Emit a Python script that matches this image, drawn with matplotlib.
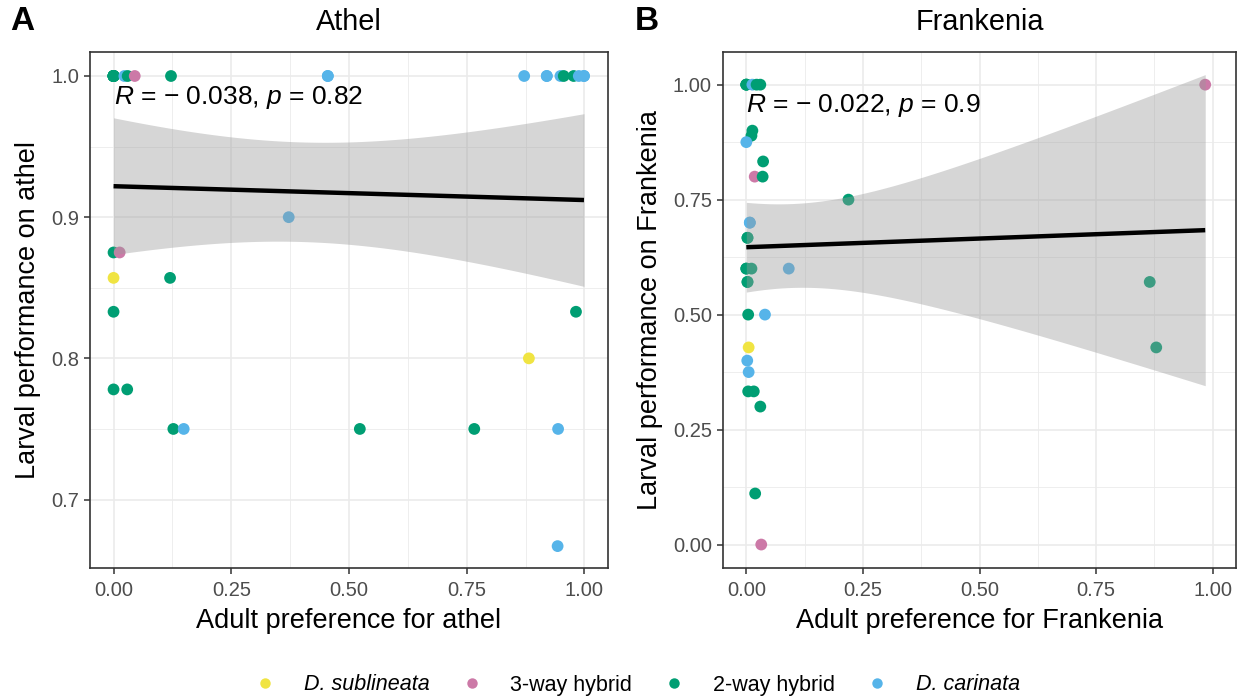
import numpy as np
import matplotlib
matplotlib.use("Agg")
import matplotlib.pyplot as plt
from matplotlib.lines import Line2D

plt.rcParams['font.family'] = ['Liberation Sans', 'DejaVu Sans']
plt.rcParams['mathtext.fontset'] = 'custom'
plt.rcParams['mathtext.rm'] = 'Liberation Sans'
plt.rcParams['mathtext.it'] = 'Liberation Sans:italic'

groups = ["D. sublineata", "3-way hybrid", "2-way hybrid", "D. carinata"]
colors = {"D. sublineata": "#F0E442", "3-way hybrid": "#CC79A7",
          "2-way hybrid": "#009E73", "D. carinata": "#56B4E9"}
Y, P, G, B = groups

# Panel A: Athel.  The first 10 points sit exactly under visible markers
# (overlapping observations, inferred from the fitted line / band).
athel_x = [0.00, 0.00, 0.00, 0.00, 0.00, 0.00, 0.00, 0.455, 0.92, 0.999,
           0.00, 0.023, 0.03, 0.045, 0.122, 0.455, 0.872, 0.92, 0.949, 0.956, 0.977, 0.988, 0.999,
           0.372, 0.00, 0.013, 0.00, 0.12, 0.00, 0.982, 0.882, 0.00, 0.029,
           0.127, 0.149, 0.523, 0.766, 0.944, 0.943]
athel_y = [1.0, 1.0, 1.0, 1.0, 1.0, 1.0, 1.0, 1.0, 1.0, 1.0,
           1.0, 1.0, 1.0, 1.0, 1.0, 1.0, 1.0, 1.0, 1.0, 1.0, 1.0, 1.0, 1.0,
           0.9, 0.875, 0.875, 0.857, 0.857, 0.833, 0.833, 0.8, 0.778, 0.778,
           0.75, 0.75, 0.75, 0.75, 0.75, 0.667]
athel_g = [G, G, G, G, G, G, G, B, B, B,
           G, B, G, P, G, B, B, B, B, G, G, B, B,
           B, G, P, Y, G, G, G, Y, G, G,
           G, B, G, G, B, B]

# Panel B: Frankenia.  The first 6 points are overlapping observations hidden
# under visible markers near x = 0.
fran_x = [0.0, 0.0, 0.0075, 0.0025, 0.0, 0.0025,
          0.0, 0.013, 0.022, 0.03, 0.984, 0.013, 0.011, 0.0, 0.036, 0.018, 0.035, 0.219,
          0.0075, 0.0025, 0.0, 0.011, 0.091, 0.0025, 0.865, 0.004, 0.040, 0.005, 0.879,
          0.002, 0.005, 0.004, 0.016, 0.03, 0.019, 0.032]
fran_y = [1.0, 1.0, 0.7, 0.667, 0.6, 0.571,
          1.0, 1.0, 1.0, 1.0, 1.0, 0.9, 0.889, 0.875, 0.833, 0.8, 0.8, 0.75,
          0.7, 0.667, 0.6, 0.6, 0.6, 0.571, 0.571, 0.5, 0.5, 0.4286, 0.4286,
          0.4, 0.375, 0.333, 0.333, 0.3, 0.111, 0.0]
fran_g = [G, G, B, G, G, G,
          G, B, G, G, P, G, G, B, G, P, G, G,
          B, G, G, G, B, G, G, G, B, Y, G,
          B, B, G, G, G, G, P]

stats_A = "$\\it{R}$ = \u2212 0.038, $\\it{p}$ = 0.82"
stats_B = "$\\it{R}$ = \u2212 0.022, $\\it{p}$ = 0.9"

T975 = {30: 2.042, 34: 2.032, 37: 2.026}


def fit_ci(x, y):
    x = np.asarray(x); y = np.asarray(y)
    n = len(x)
    b, a = np.polyfit(x, y, 1)
    xs = np.linspace(x.min(), x.max(), 80)
    yhat = a + b * xs
    resid = y - (a + b * x)
    s = np.sqrt(np.sum(resid ** 2) / (n - 2))
    se = s * np.sqrt(1 / n + (xs - x.mean()) ** 2 / np.sum((x - x.mean()) ** 2))
    t = T975.get(n - 2, 2.03)
    return xs, yhat, yhat - t * se, yhat + t * se


fig = plt.figure(figsize=(12.47, 7.0), dpi=100)
W, H = 1247, 700
top, bot = 52, 568
axA = fig.add_axes([90 / W, 1 - bot / H, (608 - 90) / W, (bot - top) / H])
axB = fig.add_axes([723 / W, 1 - bot / H, (1236 - 723) / W, (bot - top) / H])


def style(ax):
    ax.set_facecolor("white")
    ax.grid(True, which="major", color="#EBEBEB", lw=1.2, zorder=0)
    ax.grid(True, which="minor", color="#EBEBEB", lw=0.6, zorder=0)
    ax.set_axisbelow(True)
    for sp in ax.spines.values():
        sp.set_color("#333333")
        sp.set_linewidth(1.2)
    ax.tick_params(which="major", length=4.5, width=1.1, color="#333333",
                   labelsize=14.5, labelcolor="#4D4D4D")
    ax.tick_params(axis="x", which="major", pad=4.5)
    ax.tick_params(axis="y", which="major", pad=3.5)
    ax.tick_params(which="minor", length=0)


def draw(ax, x, y, g, yt, ylim, ylabels, stat, sy):
    for xi, yi, gi in zip(x, y, g):
        ax.scatter([xi], [yi], s=72, color=colors[gi], edgecolors="none", zorder=2)
    xs, yh, lo, hi = fit_ci(x, y)
    ax.fill_between(xs, lo, hi, color="#999999", alpha=0.4, lw=0, zorder=3)
    ax.plot(xs, yh, color="black", lw=3.2, zorder=4, solid_capstyle="butt")
    ax.set_xlim(-0.05, 1.05)
    ax.set_ylim(*ylim)
    ax.set_xticks([0, 0.25, 0.5, 0.75, 1.0])
    ax.set_xticklabels(["0.00", "0.25", "0.50", "0.75", "1.00"])
    ax.set_xticks([0.125, 0.375, 0.625, 0.875], minor=True)
    ax.set_yticks(yt)
    ax.set_yticklabels(ylabels)
    ax.text(0.0, sy, stat, fontsize=19, ha="left", va="center", zorder=5)


style(axA)
draw(axA, athel_x, athel_y, athel_g,
     [0.7, 0.8, 0.9, 1.0], (0.6515, 1.017), ["0.7", "0.8", "0.9", "1.0"], stats_A, 0.985)
axA.set_yticks([0.75, 0.85, 0.95], minor=True)
axA.set_xlabel("Adult preference for athel", fontsize=19.5, labelpad=6)
axA.set_ylabel("Larval performance on athel", fontsize=19.5, labelpad=7)

style(axB)
draw(axB, fran_x, fran_y, fran_g,
     [0, 0.25, 0.5, 0.75, 1.0], (-0.051, 1.071), ["0.00", "0.25", "0.50", "0.75", "1.00"], stats_B, 0.954)
axB.set_yticks([0.125, 0.375, 0.625, 0.875], minor=True)
axB.set_xlabel("Adult preference for Frankenia", fontsize=19.5, labelpad=6)
axB.set_ylabel("Larval performance on Frankenia", fontsize=19.5, labelpad=7)

fig.text((90 + 608) / 2 / W, 1 - 22 / H, "Athel", fontsize=20.8, ha="center", va="center")
fig.text((723 + 1236) / 2 / W, 1 - 22 / H, "Frankenia", fontsize=20.8, ha="center", va="center")
fig.text(10 / W, 1 - 22 / H, "A", fontsize=24, fontweight="bold", va="center", ha="left")
fig.text(635 / W, 1 - 22 / H, "B", fontsize=24, fontweight="bold", va="center", ha="left")

handles = [Line2D([0], [0], marker="o", ls="none", markersize=7.5, markerfacecolor=colors[gname],
                  markeredgecolor="none") for gname in groups]
leg = fig.legend(handles, groups, loc="center", bbox_to_anchor=(0.511, 1 - 685 / H), ncol=4,
                 frameon=False, fontsize=15.5, handletextpad=1.3, columnspacing=1.45,
                 handlelength=1.0, borderpad=0)
for t in leg.get_texts():
    if t.get_text().startswith("D."):
        t.set_fontstyle("italic")

fig.savefig("out.png", dpi=100, facecolor="white")
